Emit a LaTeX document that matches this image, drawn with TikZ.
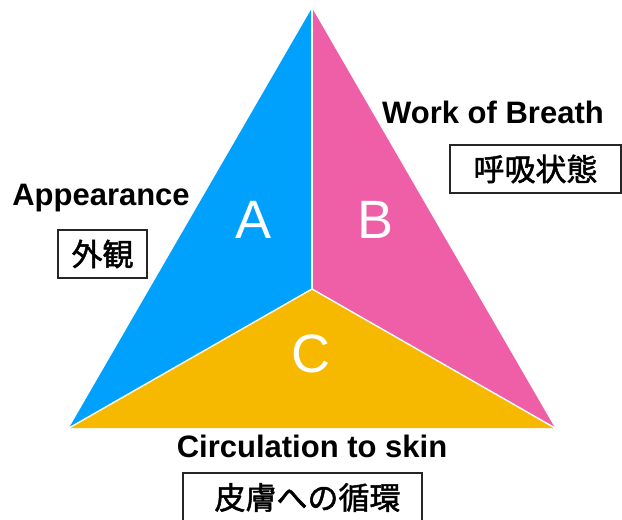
\documentclass[tikz,border=0pt]{standalone}
\usepackage{fontspec}
\setmainfont{Liberation Sans}
\newfontfamily\cjk[FakeBold=1.6]{Noto Sans CJK JP}
\definecolor{tblue}{RGB}{0,161,252}
\definecolor{tpink}{RGB}{238,95,168}
\definecolor{tyellow}{RGB}{247,185,0}
\tikzset{
  label/.style={font=\fontsize{31}{31}\selectfont\bfseries, inner sep=0pt, anchor=base},
  letter/.style={font=\fontsize{54}{54}\selectfont, text=white, inner sep=0pt, anchor=base},
  jbox/.style={draw=black!85, line width=1.1pt, minimum height=48pt, inner sep=0pt,
    font=\cjk\fontsize{31}{31}\selectfont},
  sep/.style={draw=white, line width=1.4pt}
}
\begin{document}
\begin{tikzpicture}[x=1pt,y=-1pt]
\useasboundingbox (0,0) rectangle (622,520);
\clip (0,0) rectangle (622,520);
\coordinate (T) at (312,8);
\coordinate (L) at (69,428);
\coordinate (R) at (555,428);
\coordinate (O) at (312,289);
\fill[tblue] (T) -- (O) -- (L) -- cycle;
\fill[tpink] (T) -- (R) -- (O) -- cycle;
\fill[tyellow] (L) -- (O) -- (R) -- cycle;
\draw[sep] (O) -- (T);
\draw[sep] (O) -- (L);
\draw[sep] (O) -- (R);
\node[letter] (a) at (253.5,238) {A};
\node[letter] (b) at (376,238) {B};
\node[letter] (c) at (311,372) {C};
\node[label] (app) at (101,205) {Appearance};
\node[label] (wob) at (493,123) {Work of Breath};
\node[label] (cts) at (312,457) {Circulation to skin};
\node[jbox, minimum width=89pt] (gaikan) at (102.5,254) {外観};
\node[jbox, minimum width=171pt] (kokyu) at (535.5,169) {呼吸状態};
\node[jbox, minimum width=239pt, minimum height=49pt] (junkan) at (302.5,497.5) {\hspace{10pt}皮膚への循環};
\end{tikzpicture}
\end{document}
